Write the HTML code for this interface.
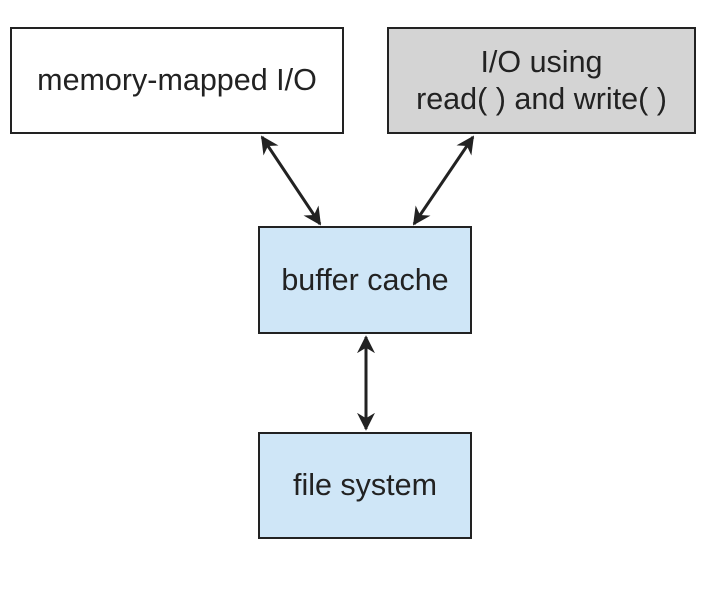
<!DOCTYPE html>
<html><head><style>
body{margin:0;width:715px;height:614px;background:#fff;position:relative;font-family:"Liberation Sans",sans-serif;overflow:hidden}
.b{position:absolute;box-sizing:border-box;border:2px solid #222;display:flex;align-items:center;justify-content:center;text-align:center;font-size:30.5px;color:#222;line-height:37px}
</style></head><body>
<div class="b" style="left:10px;top:27px;width:334px;height:107px;background:#fff">memory-mapped I/O</div>
<div class="b" style="left:387px;top:27px;width:309px;height:107px;background:#d4d4d4">I/O using<br>read( ) and write( )</div>
<div class="b" style="left:258px;top:226px;width:214px;height:108px;background:#cfe6f7">buffer cache</div>
<div class="b" style="left:258px;top:432px;width:214px;height:107px;background:#cfe6f7">file system</div>
<svg width="715" height="614" style="position:absolute;left:0;top:0">
<defs><marker id="a" viewBox="0 0 10 10" refX="9" refY="5" markerWidth="6" markerHeight="6" orient="auto-start-reverse" markerUnits="strokeWidth"><path d="M0,0L10,5L0,10L3,5z" fill="#222"/></marker></defs>
<g stroke="#222" stroke-width="3" marker-start="url(#a)" marker-end="url(#a)">
<line x1="262" y1="137" x2="320" y2="224"/>
<line x1="473" y1="137" x2="414" y2="224"/>
<line x1="366" y1="337" x2="366" y2="429"/>
</g></svg>
</body></html>
